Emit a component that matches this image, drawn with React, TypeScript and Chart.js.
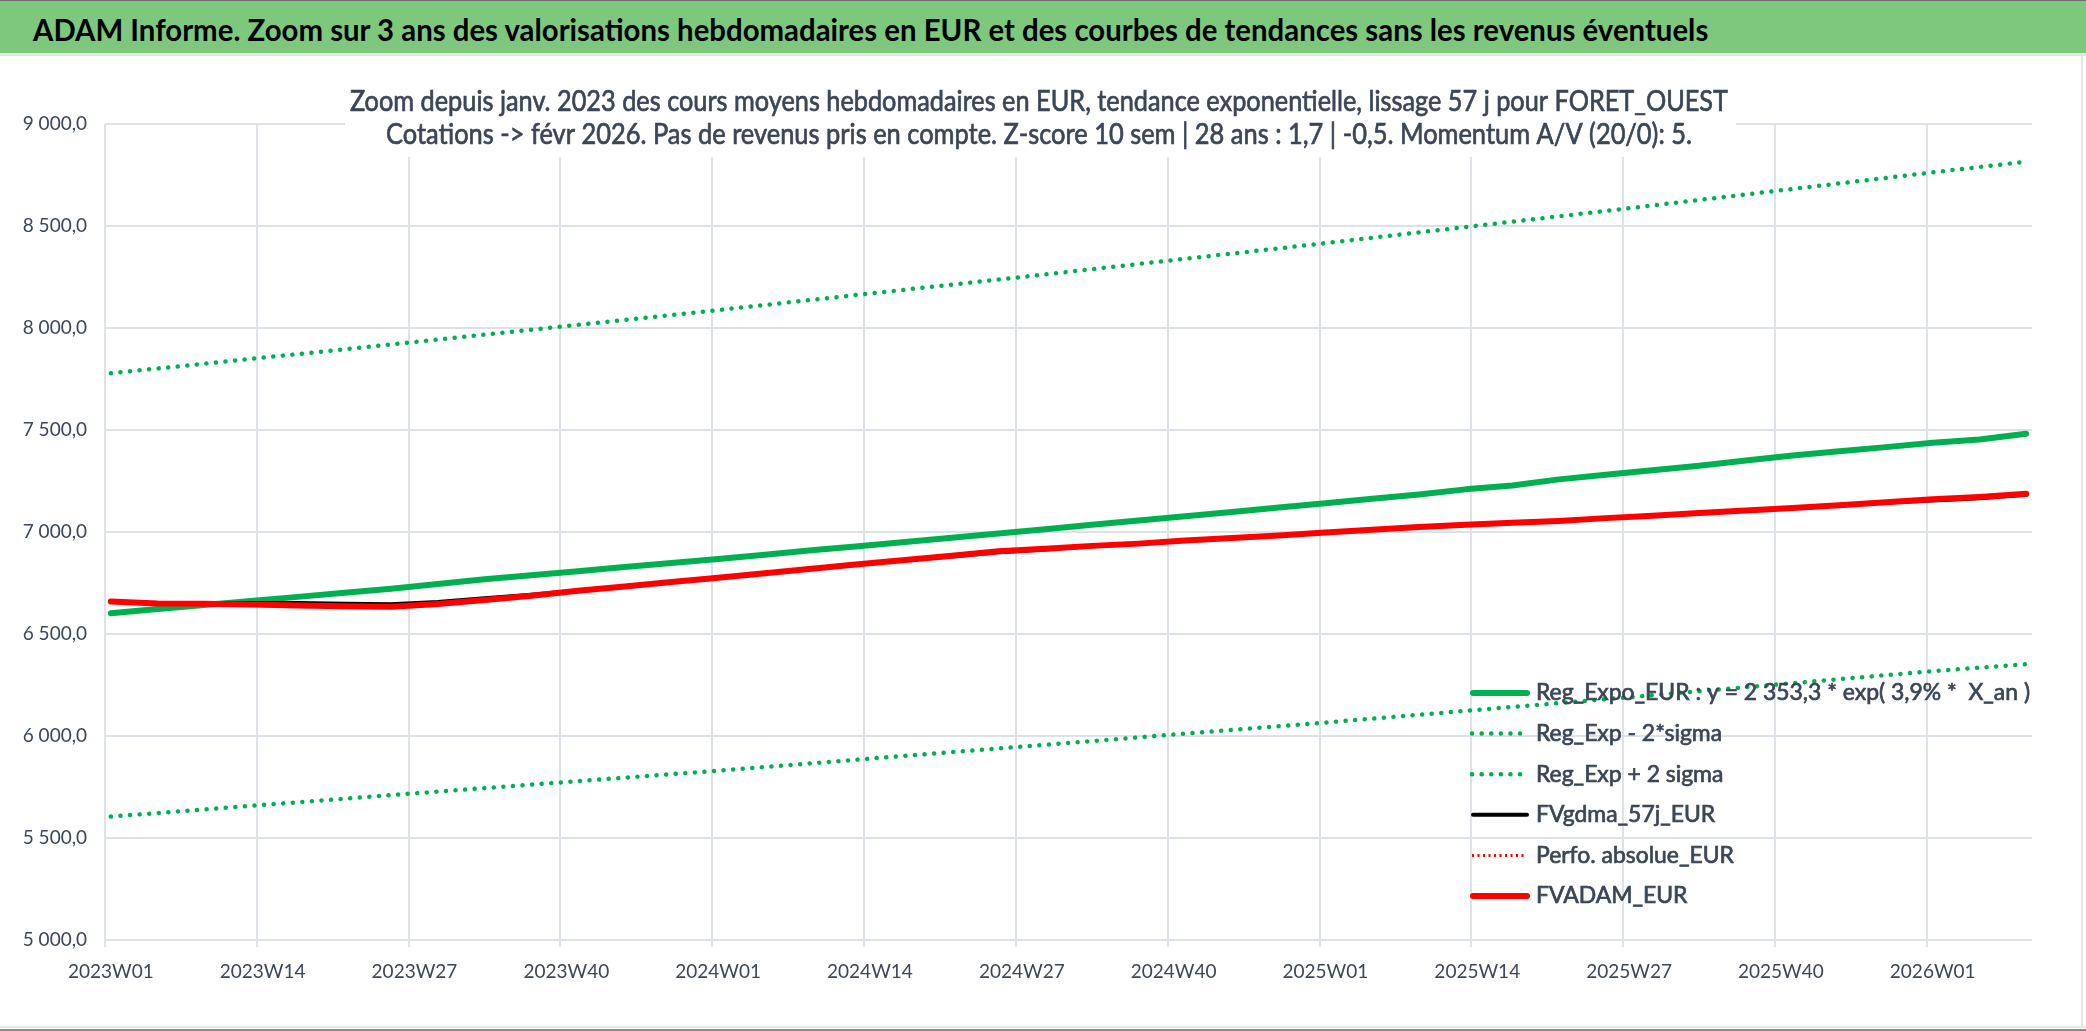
import React, { useEffect, useRef } from "react";
import { Chart, registerables } from "chart.js";

Chart.register(...registerables);

// weekly categories 2023W01 .. 2026W09
const weekLabels: string[] = [];
for (const yr of [2023, 2024, 2025]) {
  for (let w = 1; w <= 52; w++) weekLabels.push(`${yr}W${String(w).padStart(2, "0")}`);
}
for (let w = 1; w <= 9; w++) weekLabels.push(`2026W${String(w).padStart(2, "0")}`);

const sampleWeeks = [
  "2023W01", "2023W05", "2023W09", "2023W13", "2023W17", "2023W21", "2023W25", "2023W29", "2023W33", "2023W37", "2023W41", "2023W45", "2023W49",
  "2024W01", "2024W05", "2024W09", "2024W13", "2024W17", "2024W21", "2024W25", "2024W29", "2024W33", "2024W37", "2024W41", "2024W45", "2024W49",
  "2025W01", "2025W05", "2025W09", "2025W13", "2025W17", "2025W21", "2025W25", "2025W29", "2025W33", "2025W37", "2025W41", "2025W45", "2025W49",
  "2026W01", "2026W05", "2026W09",
];

const regExpo = [
  6602, 6622, 6642, 6662, 6682, 6702, 6722, 6745, 6768, 6788, 6808, 6828, 6848,
  6868, 6889, 6910, 6930, 6951, 6972, 6993, 7014, 7035, 7056, 7077, 7098, 7120,
  7141, 7163, 7184, 7209, 7228, 7258, 7281, 7303, 7325, 7350, 7375, 7396, 7416,
  7438, 7453, 7482,
];

const fvgdma57j = [
  6659, 6650, 6650, 6652, 6652, 6648, 6646, 6657, 6675, 6692, 6713, 6733, 6755,
  6776, 6798, 6820, 6842, 6862, 6880, 6901, 6914, 6930, 6942, 6957, 6969, 6982,
  6996, 7010, 7023, 7034, 7044, 7053, 7067, 7079, 7092, 7104, 7117, 7130, 7144,
  7155, 7166, 7182,
];

const fvadam = [
  6659, 6650, 6648, 6644, 6640, 6636, 6634, 6647, 6667, 6688, 6712, 6733, 6755,
  6776, 6798, 6820, 6842, 6863, 6884, 6906, 6918, 6932, 6943, 6958, 6970, 6983,
  6997, 7011, 7024, 7035, 7045, 7054, 7068, 7080, 7093, 7105, 7118, 7131, 7146,
  7160, 7171, 7187,
];

// the sigma bands are near straight, read at fewer weeks
const bandWeeks = ["2023W01", "2023W27", "2024W01", "2024W27", "2025W01", "2025W27", "2026W01", "2026W09"];
const regExpMinus2Sigma = [5605, 5719, 5830, 5948, 6066, 6190, 6318, 6352];
const regExpPlus2Sigma = [7778, 7931, 8088, 8250, 8416, 8587, 8763, 8815];

const headerText =
  "ADAM Informe. Zoom sur 3 ans des valorisations hebdomadaires en EUR et des courbes de tendances sans les revenus éventuels";
const titleLines = [
  "Zoom depuis janv. 2023 des cours moyens hebdomadaires en EUR, tendance exponentielle, lissage 57 j pour FORET_OUEST",
  "Cotations -> févr 2026. Pas de revenus pris en compte. Z-score 10 sem | 28 ans : 1,7 | -0,5. Momentum A/V (20/0): 5.",
];

const GREEN = "#00B050";
const RED = "#FF0000";
const GRID = "#DDE2E9";
const TEXT = "#3B4656";
const FONT = "Lato, 'Open Sans', sans-serif";

const formatFr = (v: number) => {
  const t = Math.floor(v / 1000);
  const r = Math.round(v % 1000);
  return `${t} ${String(r).padStart(3, "0")},0`;
};

// draws text squeezed/stretched horizontally to a given width, slightly emboldened
const drawFitted = (ctx: CanvasRenderingContext2D, text: string, x: number, y: number, k: number, align: CanvasTextAlign) => {
  ctx.save();
  ctx.translate(x, y);
  ctx.scale(k, 1);
  ctx.textAlign = align;
  ctx.fillText(text, 0, 0);
  ctx.lineWidth = 0.7;
  ctx.strokeText(text, 0, 0);
  ctx.restore();
};

const titlePlugin = {
  id: "overlayTitle",
  beforeDatasetsDraw(chart: any) {
    const ctx: CanvasRenderingContext2D = chart.ctx;
    ctx.save();
    ctx.fillStyle = "#ffffff";
    ctx.fillRect(345, 22, 1391, 80);
    ctx.fillStyle = TEXT;
    ctx.strokeStyle = TEXT;
    ctx.font = `29px ${FONT}`;
    ctx.textBaseline = "middle";
    drawFitted(ctx, titleLines[0], 1039, 47, 1378 / ctx.measureText(titleLines[0]).width, "center");
    drawFitted(ctx, titleLines[1], 1039, 80, 1306 / ctx.measureText(titleLines[1]).width, "center");
    ctx.restore();
  },
};

const legendPlugin = {
  id: "insideLegend",
  afterDatasetsDraw(chart: any) {
    const ctx: CanvasRenderingContext2D = chart.ctx;
    const sets = chart.data.datasets;
    ctx.save();
    ctx.font = `23px ${FONT}`;
    ctx.textBaseline = "middle";
    const k = 494 / ctx.measureText(sets[0].label).width;
    sets.forEach((ds: any, i: number) => {
      const y = 638 + i * 40.6;
      const dashed = ds.borderDash && ds.borderDash.length > 0;
      ctx.strokeStyle = ds.borderColor;
      ctx.lineWidth = ds.borderWidth;
      ctx.lineCap = ds.borderCapStyle || "round";
      ctx.setLineDash(ds.borderDash || []);
      ctx.beginPath();
      ctx.moveTo(dashed ? 1472 : 1473, y);
      ctx.lineTo(1527, y);
      ctx.stroke();
      ctx.setLineDash([]);
      ctx.fillStyle = TEXT;
      ctx.strokeStyle = TEXT;
      drawFitted(ctx, ds.label, 1536, y, k, "left");
    });
    ctx.restore();
  },
};

export default function App() {
  const canvasRef = useRef<HTMLCanvasElement | null>(null);
  const headerRef = useRef<HTMLSpanElement | null>(null);

  useEffect(() => {
    const span = headerRef.current;
    if (span) {
      span.style.transform = "none";
      span.style.transform = `scaleX(${1675 / span.offsetWidth})`;
    }

    if (!canvasRef.current) return;
    const points = (weeks: string[], values: number[]) => weeks.map((w, i) => ({ x: w, y: values[i] }));
    const common = { pointRadius: 0, tension: 0, fill: false, borderCapStyle: "round", borderJoinStyle: "round" };

    // lower "order" is painted on top
    const chart = new Chart(canvasRef.current, {
      type: "line",
      data: {
        labels: weekLabels,
        datasets: [
          { ...common, order: 3, label: "Reg_Expo_EUR : y = 2 353,3 * exp( 3,9% *  X_an )", data: points(sampleWeeks, regExpo), borderColor: GREEN, borderWidth: 6 },
          { ...common, order: 5, label: "Reg_Exp - 2*sigma", data: points(bandWeeks, regExpMinus2Sigma), borderColor: GREEN, borderWidth: 4.5, borderDash: [0.1, 9.5] },
          { ...common, order: 4, label: "Reg_Exp + 2 sigma", data: points(bandWeeks, regExpPlus2Sigma), borderColor: GREEN, borderWidth: 4.5, borderDash: [0.1, 9.5] },
          { ...common, order: 2, label: "FVgdma_57j_EUR", data: points(sampleWeeks, fvgdma57j), borderColor: "#000000", borderWidth: 4 },
          { ...common, order: 1, label: "Perfo. absolue_EUR", data: [], borderColor: RED, borderWidth: 3, borderDash: [2, 3.5], borderCapStyle: "butt" },
          { ...common, order: 0, label: "FVADAM_EUR", data: points(sampleWeeks, fvadam), borderColor: RED, borderWidth: 6 },
        ],
      } as any,
      options: {
        animation: false,
        responsive: true,
        maintainAspectRatio: false,
        layout: { padding: { top: 69, right: 49, bottom: 0, left: 0 } },
        plugins: {
          legend: { display: false },
          title: { display: false },
          tooltip: { enabled: false },
        },
        scales: {
          x: {
            type: "category",
            offset: true,
            grid: {
              offset: true,
              color: (c: any) => (c.index % 13 === 0 ? GRID : "transparent"),
              lineWidth: 2,
              drawTicks: true,
              tickLength: 7,
            },
            border: { display: false },
            ticks: {
              autoSkip: false,
              maxRotation: 0,
              minRotation: 0,
              padding: 13,
              color: TEXT,
              font: { family: FONT, size: 19 },
              callback: (_v: any, i: number) => (i % 13 === 0 ? weekLabels[i] : ""),
            },
            afterFit: (s: any) => {
              s.height = 87;
            },
          },
          y: {
            min: 5000,
            max: 9000,
            grid: { color: GRID, lineWidth: 2, drawTicks: false },
            border: { display: false },
            ticks: {
              stepSize: 500,
              padding: 18,
              color: TEXT,
              font: { family: FONT, size: 19 },
              callback: (v: any) => formatFr(Number(v)),
            },
            afterFit: (s: any) => {
              s.width = 105;
            },
          },
        },
      } as any,
      plugins: [titlePlugin, legendPlugin],
    });

    return () => {
      chart.destroy();
    };
  }, []);

  return (
    <div style={{ position: "absolute", left: 0, top: 0, width: 2086, height: 1031, background: "#ffffff", overflow: "hidden" }}>
      <div
        style={{
          position: "absolute", left: 0, top: 0, width: 2086, height: 53, boxSizing: "border-box",
          background: "#7EC87E", borderTop: "1px solid #6E6E6E", display: "flex", alignItems: "center", paddingTop: 3,
        }}
      >
        <span
          ref={headerRef}
          style={{
            marginLeft: 33, fontFamily: FONT, fontWeight: 700, fontSize: 30, color: "#000000",
            whiteSpace: "nowrap", display: "inline-block", transformOrigin: "left center",
          }}
        >
          {headerText}
        </span>
      </div>
      <div style={{ position: "absolute", left: 0, top: 53, width: 2086, height: 3, background: "#E2E5EA" }} />
      <div style={{ position: "absolute", left: 0, top: 55, width: 2081, height: 972 }}>
        <canvas ref={canvasRef} />
      </div>
      <div style={{ position: "absolute", left: 2081, top: 56, width: 2, height: 972, background: "#E2E5EA" }} />
      <div style={{ position: "absolute", left: 0, top: 1026, width: 2086, height: 2, background: "#E2E5EA" }} />
      <div style={{ position: "absolute", left: 0, top: 1029, width: 2086, height: 2, background: "#8A8A8A" }} />
    </div>
  );
}
